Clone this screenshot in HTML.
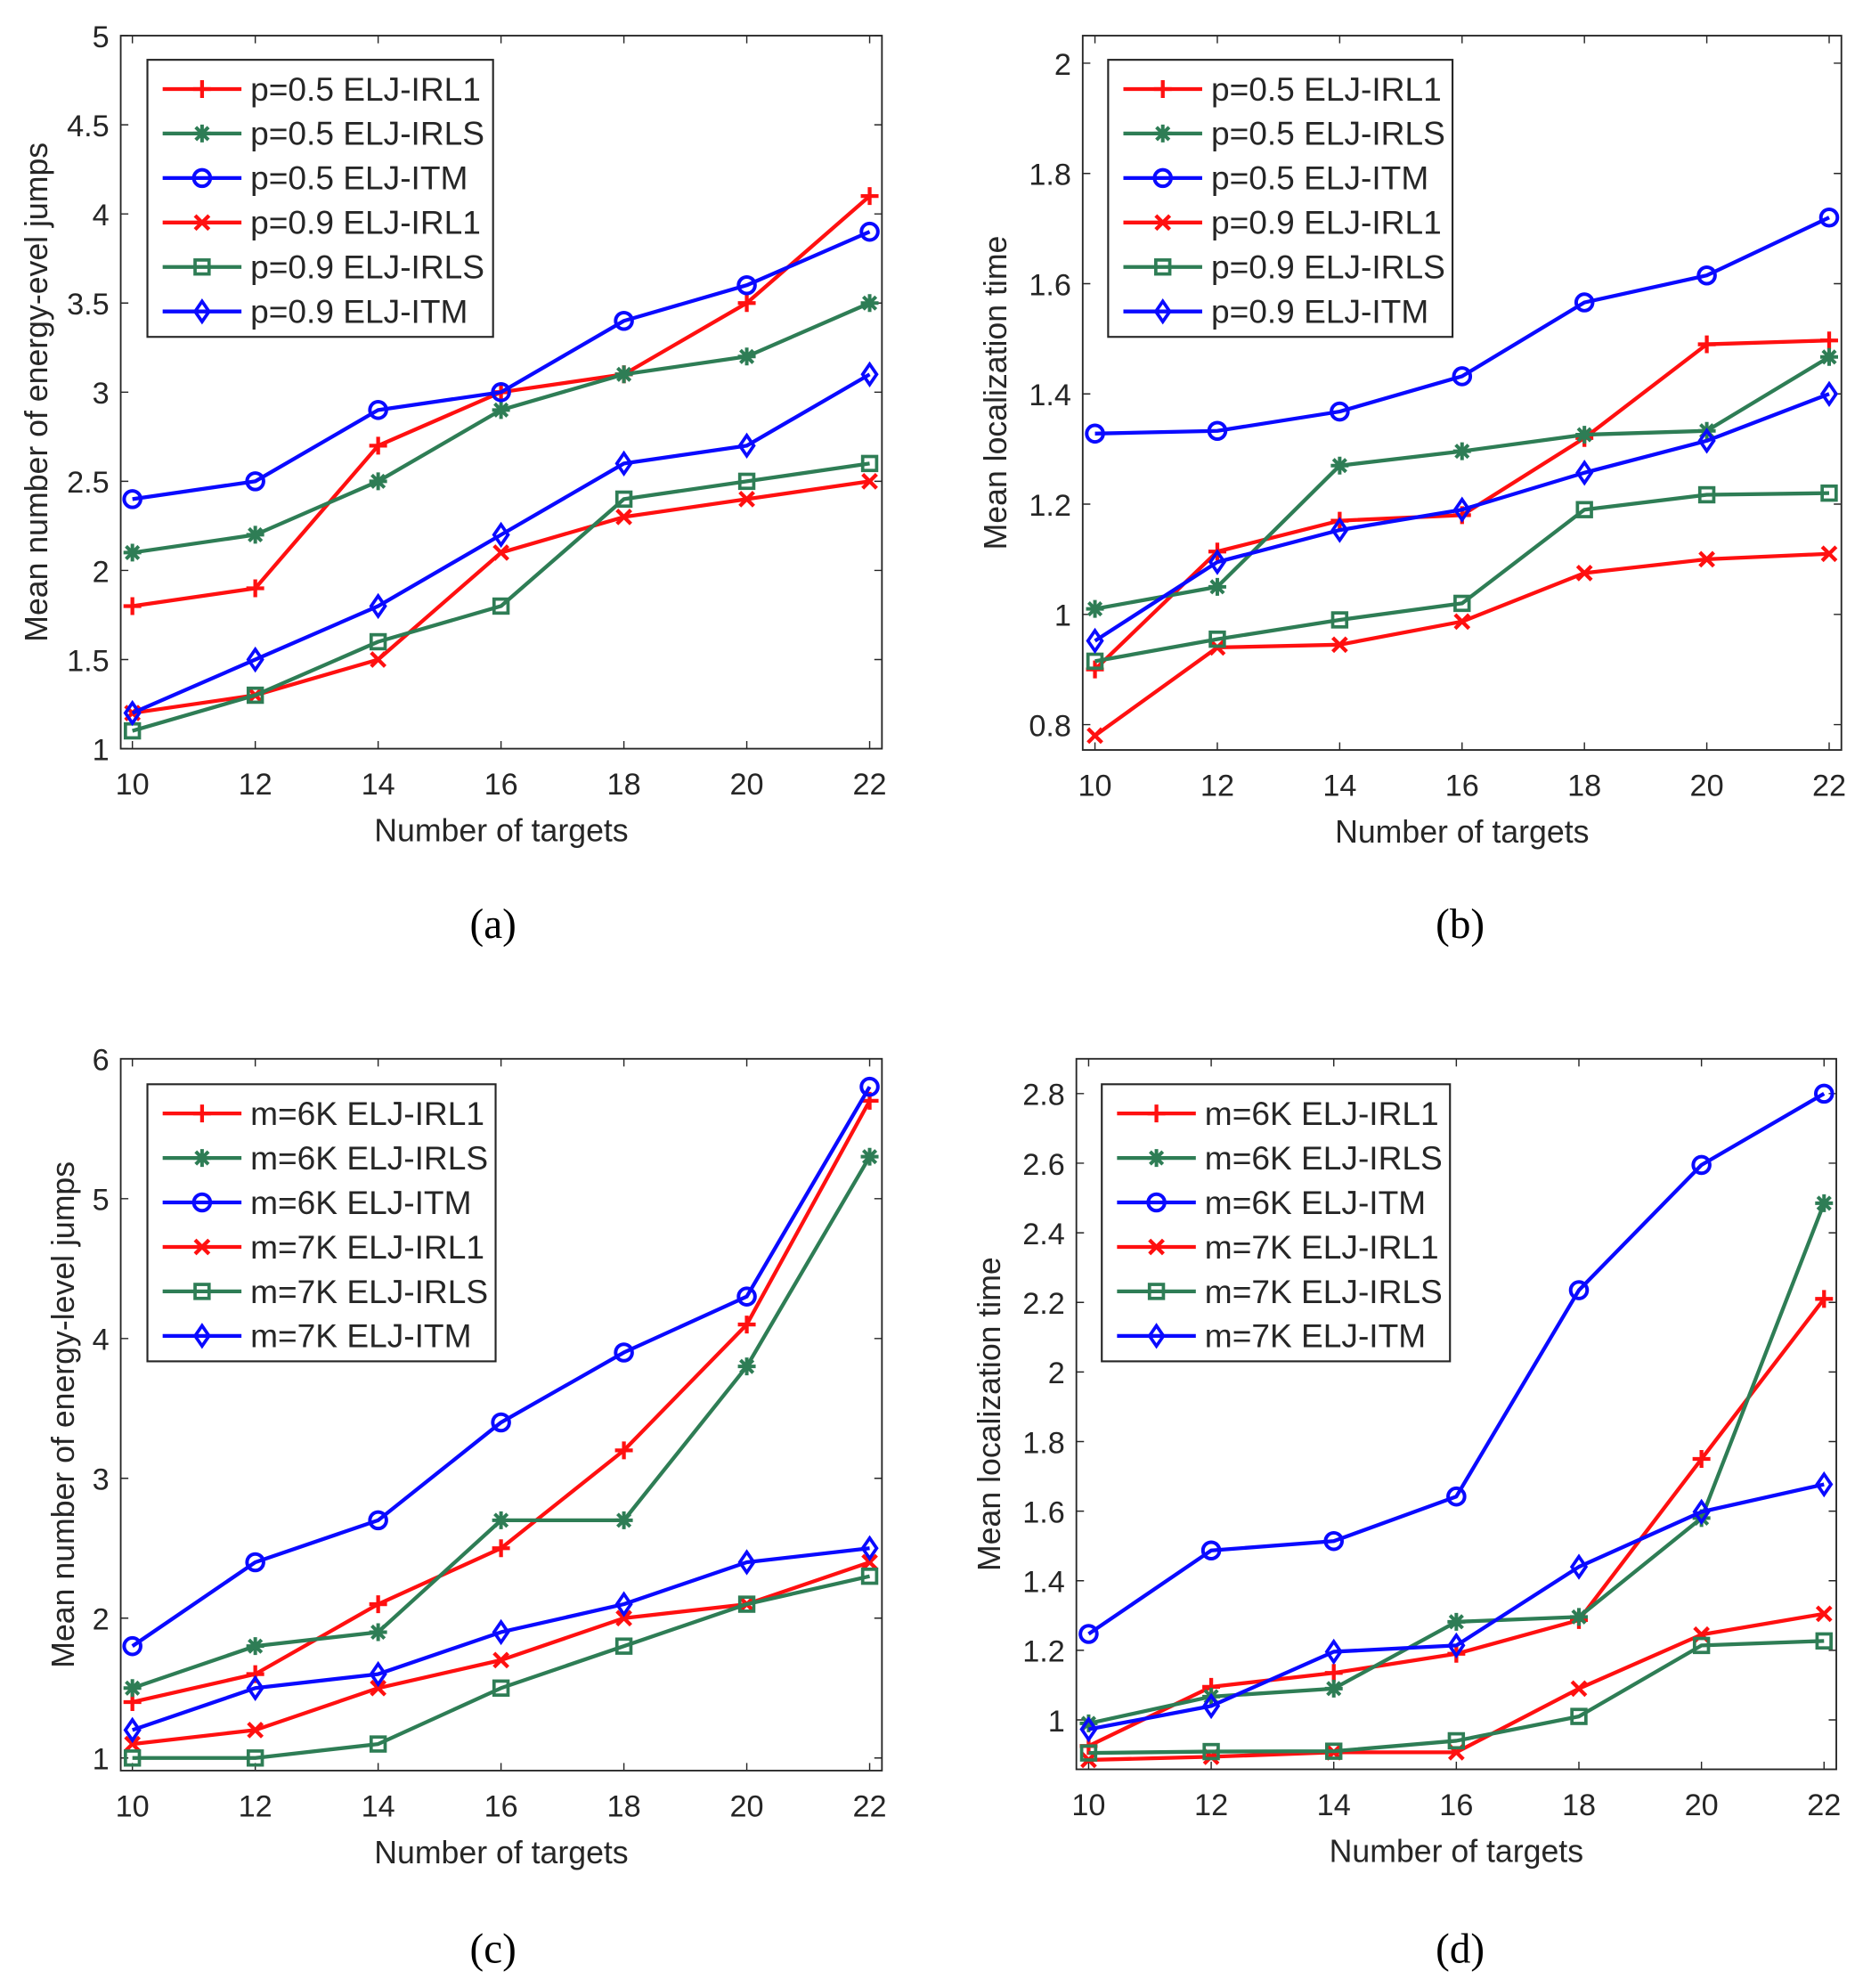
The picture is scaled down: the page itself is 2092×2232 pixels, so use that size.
<!DOCTYPE html>
<html><head><meta charset="utf-8">
<style>
html,body{margin:0;padding:0;background:#fff;}
svg{display:block;}
text{font-family:"Liberation Sans",Arial,sans-serif;fill:#262626;}
.cap{font-family:"Liberation Serif","Times New Roman",serif;fill:#000;}
</style></head>
<body>
<svg id="fig" width="2092" height="2232" viewBox="0 0 1466 1564" xmlns="http://www.w3.org/2000/svg"></svg>
<script>
const xCats = [10,12,14,16,18,20,22];
// Panel (a)
const a_p05_irl1 = [1.8,1.9,2.7,3.0,3.1,3.5,4.1];
const a_p05_irls = [2.1,2.2,2.5,2.9,3.1,3.2,3.5];
const a_p05_itm  = [2.4,2.5,2.9,3.0,3.4,3.6,3.9];
const a_p09_irl1 = [1.2,1.3,1.5,2.1,2.3,2.4,2.5];
const a_p09_irls = [1.1,1.3,1.6,1.8,2.4,2.5,2.6];
const a_p09_itm  = [1.2,1.5,1.8,2.2,2.6,2.7,3.1];
const a_yticks = [1,1.5,2,2.5,3,3.5,4,4.5,5];
// Panel (b)
const b_p05_irl1 = [0.90,1.114,1.17,1.18,1.32,1.49,1.497];
const b_p05_irls = [1.01,1.05,1.27,1.296,1.326,1.333,1.467];
const b_p05_itm  = [1.328,1.333,1.368,1.432,1.566,1.615,1.72];
const b_p09_irl1 = [0.78,0.94,0.945,0.987,1.075,1.10,1.11];
const b_p09_irls = [0.915,0.955,0.99,1.02,1.19,1.217,1.22];
const b_p09_itm  = [0.952,1.095,1.153,1.19,1.257,1.315,1.40];
const b_yticks = [0.8,1,1.2,1.4,1.6,1.8,2];
// Panel (c)
const c_m6_irl1 = [1.4,1.6,2.1,2.5,3.2,4.1,5.7];
const c_m6_irls = [1.5,1.8,1.9,2.7,2.7,3.8,5.3];
const c_m6_itm  = [1.8,2.4,2.7,3.4,3.9,4.3,5.8];
const c_m7_irl1 = [1.1,1.2,1.5,1.7,2.0,2.1,2.4];
const c_m7_irls = [1.0,1.0,1.1,1.5,1.8,2.1,2.3];
const c_m7_itm  = [1.2,1.5,1.6,1.9,2.1,2.4,2.5];
const c_yticks = [1,2,3,4,5,6];
// Panel (d)
const d_m6_irl1 = [0.925,1.095,1.135,1.19,1.287,1.75,2.21];
const d_m6_irls = [0.99,1.067,1.09,1.282,1.296,1.58,2.485];
const d_m6_itm  = [1.247,1.487,1.514,1.642,2.235,2.595,2.8];
const d_m7_irl1 = [0.885,0.894,0.907,0.907,1.09,1.245,1.305];
const d_m7_irls = [0.905,0.909,0.91,0.94,1.01,1.214,1.227];
const d_m7_itm  = [0.973,1.04,1.196,1.214,1.44,1.598,1.677];
const d_yticks = [1,1.2,1.4,1.6,1.8,2,2.2,2.4,2.6,2.8];

const RED='#ff1010', GRN='#2e7d55', BLU='#0a0aff';
const NS='http://www.w3.org/2000/svg';
const svg=document.getElementById('fig');
function mk(tag,attrs,parent){const e=document.createElementNS(NS,tag);for(const k in attrs)e.setAttribute(k,attrs[k]);(parent||svg).appendChild(e);return e;}

function marker(g,type,x,y,c){
  const s=7;
  if(type==='plus'){
    mk('path',{d:`M${x-s} ${y}H${x+s}M${x} ${y-s}V${y+s}`,stroke:c,'stroke-width':3,fill:'none'},g);
  }else if(type==='star'){
    mk('path',{d:`M${x-s} ${y}H${x+s}M${x} ${y-s}V${y+s}M${x-5} ${y-5}L${x+5} ${y+5}M${x-5} ${y+5}L${x+5} ${y-5}`,stroke:c,'stroke-width':2.8,fill:'none'},g);
  }else if(type==='circle'){
    mk('circle',{cx:x,cy:y,r:6.5,stroke:c,'stroke-width':2.8,fill:'none'},g);
  }else if(type==='x'){
    mk('path',{d:`M${x-5.5} ${y-5.5}L${x+5.5} ${y+5.5}M${x-5.5} ${y+5.5}L${x+5.5} ${y-5.5}`,stroke:c,'stroke-width':3,fill:'none'},g);
  }else if(type==='square'){
    mk('rect',{x:x-5.5,y:y-5.5,width:11,height:11,stroke:c,'stroke-width':2.6,fill:'none'},g);
  }else if(type==='diamond'){
    mk('path',{d:`M${x} ${y-8}L${x+5.5} ${y}L${x} ${y+8}L${x-5.5} ${y}Z`,stroke:c,'stroke-width':2.6,fill:'none'},g);
  }
}

function panel(cfg){
  const g=mk('g',{});
  
  
  const {L,R,T,B,xmin,xmax,ymin,ymax}=cfg;
  const sx=v=>L+(v-xmin)/(xmax-xmin)*(R-L);
  const sy=v=>B-(v-ymin)/(ymax-ymin)*(B-T);
  xCats.forEach(v=>{
    const x=sx(v);
    mk('path',{d:`M${x} ${B}V${B-6}M${x} ${T}V${T+6}`,stroke:'#262626','stroke-width':1},g);
    const t=mk('text',{x:x,y:B+36,'text-anchor':'middle','font-size':24},g);t.textContent=v;
    
    
  });
  cfg.yticks.forEach(v=>{
    const y=sy(v);
    mk('path',{d:`M${L} ${y}H${L+6}M${R} ${y}H${R-6}`,stroke:'#262626','stroke-width':1},g);
    const t=mk('text',{x:L-9,y:y+9,'text-anchor':'end','font-size':24},g);t.textContent=v;
    
    
  });
  cfg.series.forEach(s=>{
    const sg=mk('g',{},g);
    
    
    const pts=s.data.map((v,i)=>sx(xCats[i])+','+sy(v)).join(' ');
    mk('polyline',{points:pts,stroke:s.c,'stroke-width':3,fill:'none','stroke-linejoin':'round'},sg);
    s.data.forEach((v,i)=>marker(sg,s.m,sx(xCats[i]),sy(v),s.c));
  });
  mk('rect',{x:L,y:T,width:R-L,height:B-T,fill:'none',stroke:'#262626','stroke-width':1.3},g);
  const lg=mk('g',{},g);
  
  
  const lx=cfg.leg[0], ly=cfg.leg[1];
  mk('rect',{x:lx,y:ly,width:cfg.leg[2],height:218,fill:'#fff',stroke:'#262626','stroke-width':1.5},lg);
  cfg.series.forEach((s,i)=>{
    const y=ly+23+i*35;
    const eg=mk('g',{},lg);
    
    
    mk('path',{d:`M${lx+12} ${y}H${lx+74}`,stroke:s.c,'stroke-width':3},eg);
    marker(eg,s.m,lx+43,y,s.c);
    const t=mk('text',{x:lx+81,y:y+9,'font-size':26,fill:'#000'},eg);t.textContent=s.label;
  });
  const xl=mk('text',{x:(L+R)/2,y:B+73,'text-anchor':'middle','font-size':25},g);xl.textContent='Number of targets';
  
  
  const yl=mk('text',{x:0,y:0,'text-anchor':'middle','font-size':25,transform:`translate(${cfg.ylx},${(T+B)/2}) rotate(-90)`},g);yl.textContent=cfg.ylabel;
  
  
  const cp=mk('text',{x:cfg.cap[0],y:cfg.cap[1],'text-anchor':'middle','font-size':33,class:'cap'},g);cp.textContent=cfg.captext;
  
  
}

panel({name:'panel-a',L:95,R:694,T:28,B:589,xmin:9.81,xmax:22.2,ymin:1,ymax:5,yticks:a_yticks,
  ylabel:'Mean number of energy-evel jumps',ylx:37,leg:[116,47,272],cap:[388,738],captext:'(a)',
  series:[
   {label:'p=0.5 ELJ-IRL1',data:a_p05_irl1,c:RED,m:'plus'},
   {label:'p=0.5 ELJ-IRLS',data:a_p05_irls,c:GRN,m:'star'},
   {label:'p=0.5 ELJ-ITM',data:a_p05_itm,c:BLU,m:'circle'},
   {label:'p=0.9 ELJ-IRL1',data:a_p09_irl1,c:RED,m:'x'},
   {label:'p=0.9 ELJ-IRLS',data:a_p09_irls,c:GRN,m:'square'},
   {label:'p=0.9 ELJ-ITM',data:a_p09_itm,c:BLU,m:'diamond'}]});
panel({name:'panel-b',L:852,R:1449,T:28,B:590,xmin:9.8,xmax:22.2,ymin:0.754,ymax:2.05,yticks:b_yticks,
  ylabel:'Mean localization time',ylx:792,leg:[872,47,271],cap:[1149,738],captext:'(b)',
  series:[
   {label:'p=0.5 ELJ-IRL1',data:b_p05_irl1,c:RED,m:'plus'},
   {label:'p=0.5 ELJ-IRLS',data:b_p05_irls,c:GRN,m:'star'},
   {label:'p=0.5 ELJ-ITM',data:b_p05_itm,c:BLU,m:'circle'},
   {label:'p=0.9 ELJ-IRL1',data:b_p09_irl1,c:RED,m:'x'},
   {label:'p=0.9 ELJ-IRLS',data:b_p09_irls,c:GRN,m:'square'},
   {label:'p=0.9 ELJ-ITM',data:b_p09_itm,c:BLU,m:'diamond'}]});
panel({name:'panel-c',L:95,R:694,T:833,B:1393,xmin:9.81,xmax:22.2,ymin:0.91,ymax:6,yticks:c_yticks,
  ylabel:'Mean number of energy-level jumps',ylx:58,leg:[116,853,274],cap:[388,1544],captext:'(c)',
  series:[
   {label:'m=6K ELJ-IRL1',data:c_m6_irl1,c:RED,m:'plus'},
   {label:'m=6K ELJ-IRLS',data:c_m6_irls,c:GRN,m:'star'},
   {label:'m=6K ELJ-ITM',data:c_m6_itm,c:BLU,m:'circle'},
   {label:'m=7K ELJ-IRL1',data:c_m7_irl1,c:RED,m:'x'},
   {label:'m=7K ELJ-IRLS',data:c_m7_irls,c:GRN,m:'square'},
   {label:'m=7K ELJ-ITM',data:c_m7_itm,c:BLU,m:'diamond'}]});
panel({name:'panel-d',L:847,R:1445,T:833,B:1392,xmin:9.8,xmax:22.2,ymin:0.858,ymax:2.9,yticks:d_yticks,
  ylabel:'Mean localization time',ylx:787,leg:[867,853,274],cap:[1149,1544],captext:'(d)',
  series:[
   {label:'m=6K ELJ-IRL1',data:d_m6_irl1,c:RED,m:'plus'},
   {label:'m=6K ELJ-IRLS',data:d_m6_irls,c:GRN,m:'star'},
   {label:'m=6K ELJ-ITM',data:d_m6_itm,c:BLU,m:'circle'},
   {label:'m=7K ELJ-IRL1',data:d_m7_irl1,c:RED,m:'x'},
   {label:'m=7K ELJ-IRLS',data:d_m7_irls,c:GRN,m:'square'},
   {label:'m=7K ELJ-ITM',data:d_m7_itm,c:BLU,m:'diamond'}]});
</script>
</body></html>
